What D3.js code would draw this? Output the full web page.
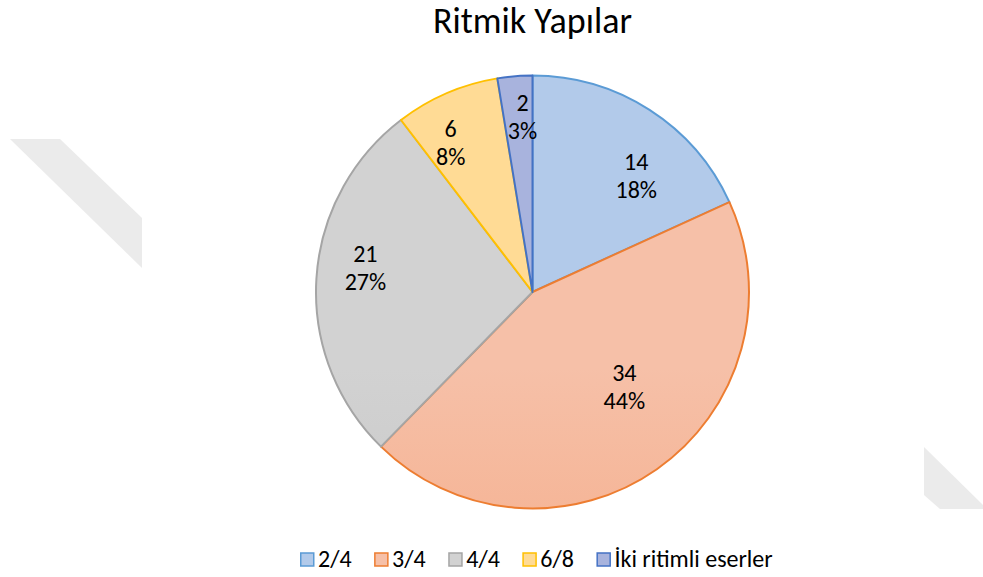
<!DOCTYPE html>
<html>
<head>
<meta charset="utf-8">
<script src="https://cdn.jsdelivr.net/npm/d3@7/dist/d3.min.js"></script>
<style>
  html, body { margin: 0; padding: 0; background: #fff; }
  svg { display: block; }
  text { font-family: Carlito, Calibri, Lato, "Open Sans", sans-serif; fill: #000; }
</style>
</head>
<body>
<svg id="chart" width="983" height="577"></svg>
<script>
// Rhythmic structures of the pieces
const title = "Ritmik Yapılar";
const categories = ["2/4", "3/4", "4/4", "6/8", "İki ritimli eserler"];
const counts = [14, 34, 21, 6, 2];
const percentLabels = ["18%", "44%", "27%", "8%", "3%"];

const strokeColors = ["#5b9bd5", "#ed7d31", "#a5a5a5", "#ffc000", "#4472c4"];
const fillTop = ["#b2caea", "#f6c0a8", "#d2d2d2", "#ffdb95", "#a8b3dd"];
const fillBottom = ["#93b5e1", "#f4a279", "#bdbdbd", "#ffd07a", "#95a4d7"];

const svg = d3.select("#chart");
const cx = 532.5, cy = 292, R = 216.5;

// faint background bands at the page edges
const bg = svg.append("g").attr("fill", "#ebebeb");
bg.append("path").attr("d", "M10,139 L60,139 L142,218 L142,268 Z");
bg.append("path").attr("d", "M924,447 L983,505 L983,509 L940,509 L924,495 Z");

// per-slice vertical gradients
const defs = svg.append("defs");
categories.forEach((c, i) => {
  const g = defs.append("linearGradient")
    .attr("id", "grad" + i)
    .attr("gradientUnits", "userSpaceOnUse")
    .attr("x1", 0).attr("y1", cy - R)
    .attr("x2", 0).attr("y2", cy + R);
  g.append("stop").attr("offset", "0%").attr("stop-color", fillTop[i]);
  g.append("stop").attr("offset", "100%").attr("stop-color", fillBottom[i]);
});

// title
svg.append("text")
  .attr("x", cx).attr("y", 33)
  .attr("text-anchor", "middle")
  .style("font-size", "36px")
  .text(title);

const pie = d3.pie().value(d => d).sort(null);
const arcs = pie(counts);
const arc = d3.arc().innerRadius(0).outerRadius(R);

const g = svg.append("g").attr("transform", `translate(${cx},${cy})`);

g.selectAll("path.slice")
  .data(arcs)
  .join("path")
  .attr("class", "slice")
  .attr("d", arc)
  .attr("fill", (d, i) => `url(#grad${i})`)
  .attr("stroke", (d, i) => strokeColors[i])
  .attr("stroke-width", 2)
  .attr("stroke-linejoin", "round");

// label placement: radial fraction and angular nudge (degrees) per slice
const labelLayout = [
  { frac: 0.72, shift: 9 },
  { frac: 0.61, shift: -9 },
  { frac: 0.78, shift: 4.7 },
  { frac: 0.785, shift: -5.4 },
  { frac: 0.81, shift: 1.4 }
];

arcs.forEach((d, i) => {
  const mid = (d.startAngle + d.endAngle) / 2 + labelLayout[i].shift * Math.PI / 180;
  const r = R * labelLayout[i].frac;
  const x = Math.sin(mid) * r;
  const y = -Math.cos(mid) * r;
  const t = g.append("text")
    .attr("text-anchor", "middle")
    .style("font-size", "24px");
  t.append("tspan").attr("x", x).attr("y", y - 14 + 8).text(counts[i]);
  t.append("tspan").attr("x", x).attr("y", y + 14 + 8).text(percentLabels[i]);
});

// legend
const legend = svg.append("g").attr("transform", "translate(0,559.5)");
let lx = 300;
categories.forEach((c, i) => {
  const item = legend.append("g").attr("transform", `translate(${lx},0)`);
  item.append("rect")
    .attr("x", 0.75).attr("y", -6.5)
    .attr("width", 13).attr("height", 13)
    .attr("fill", `url(#grad${i})`)
    .attr("stroke", strokeColors[i])
    .attr("stroke-width", 1.5);
  const t = item.append("text")
    .attr("x", 18).attr("y", 7.5)
    .style("font-size", "24px")
    .text(c);
  const w = t.node().getComputedTextLength();
  lx += 18 + w + 22.5;
});
</script>
</body>
</html>
